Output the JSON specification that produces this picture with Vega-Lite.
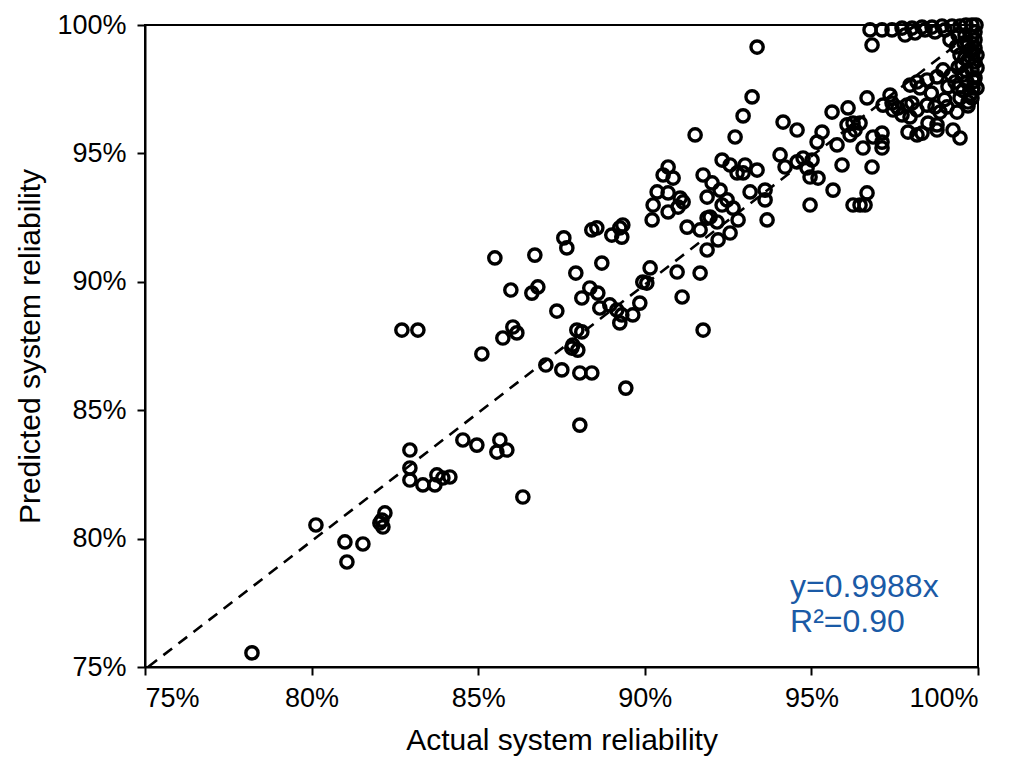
{
  "$schema": "https://vega.github.io/schema/vega-lite/v6.json",
  "autosize": {"type": "none"},
  "padding": {"left": 145, "top": 25, "right": 40, "bottom": 99},
  "width": 833,
  "height": 642,
  "background": "white",
  "config": {
    "font": "Liberation Sans",
    "view": {"stroke": "black", "strokeWidth": 2},
    "axis": {
      "domainColor": "black",
      "domainWidth": 2,
      "tickColor": "black",
      "tickWidth": 2,
      "tickSize": 8,
      "grid": false,
      "labelFont": "Liberation Sans",
      "labelFontSize": 27,
      "labelColor": "black",
      "titleFont": "Liberation Sans",
      "titleFontSize": 30,
      "titleFontWeight": "normal",
      "titleColor": "black"
    }
  },
  "datasets": {
    "reliability": [
      {"actual": 78.21, "predicted": 75.55},
      {"actual": 80.13, "predicted": 80.53},
      {"actual": 81.00, "predicted": 79.87},
      {"actual": 81.54, "predicted": 79.79},
      {"actual": 81.06, "predicted": 79.09},
      {"actual": 82.11, "predicted": 80.72},
      {"actual": 82.20, "predicted": 81.00},
      {"actual": 82.14, "predicted": 80.45},
      {"actual": 82.05, "predicted": 80.61},
      {"actual": 82.95, "predicted": 83.45},
      {"actual": 82.95, "predicted": 82.75},
      {"actual": 82.95, "predicted": 82.28},
      {"actual": 83.34, "predicted": 82.09},
      {"actual": 83.70, "predicted": 82.09},
      {"actual": 83.76, "predicted": 82.48},
      {"actual": 83.94, "predicted": 82.36},
      {"actual": 84.15, "predicted": 82.40},
      {"actual": 84.54, "predicted": 83.84},
      {"actual": 84.96, "predicted": 83.64},
      {"actual": 85.65, "predicted": 83.84},
      {"actual": 85.56, "predicted": 83.37},
      {"actual": 85.86, "predicted": 83.45},
      {"actual": 86.34, "predicted": 81.62},
      {"actual": 88.05, "predicted": 84.42},
      {"actual": 82.71, "predicted": 88.12},
      {"actual": 83.19, "predicted": 88.12},
      {"actual": 85.11, "predicted": 87.19},
      {"actual": 85.50, "predicted": 90.93},
      {"actual": 85.74, "predicted": 87.81},
      {"actual": 86.04, "predicted": 88.24},
      {"actual": 86.16, "predicted": 88.01},
      {"actual": 85.98, "predicted": 89.68},
      {"actual": 86.61, "predicted": 89.56},
      {"actual": 86.79, "predicted": 89.80},
      {"actual": 86.70, "predicted": 91.04},
      {"actual": 87.03, "predicted": 86.76},
      {"actual": 87.36, "predicted": 88.86},
      {"actual": 87.51, "predicted": 86.57},
      {"actual": 87.57, "predicted": 91.71},
      {"actual": 87.66, "predicted": 91.32},
      {"actual": 87.96, "predicted": 88.12},
      {"actual": 88.11, "predicted": 88.05},
      {"actual": 87.81, "predicted": 87.42},
      {"actual": 87.99, "predicted": 87.34},
      {"actual": 87.84, "predicted": 87.54},
      {"actual": 88.05, "predicted": 86.45},
      {"actual": 88.41, "predicted": 86.45},
      {"actual": 87.93, "predicted": 90.34},
      {"actual": 88.11, "predicted": 89.37},
      {"actual": 88.35, "predicted": 89.76},
      {"actual": 88.41, "predicted": 92.02},
      {"actual": 88.56, "predicted": 92.10},
      {"actual": 88.59, "predicted": 89.56},
      {"actual": 88.65, "predicted": 88.98},
      {"actual": 88.71, "predicted": 90.73},
      {"actual": 88.95, "predicted": 89.10},
      {"actual": 89.01, "predicted": 91.82},
      {"actual": 89.16, "predicted": 88.90},
      {"actual": 89.25, "predicted": 92.10},
      {"actual": 89.34, "predicted": 92.21},
      {"actual": 89.31, "predicted": 91.74},
      {"actual": 89.31, "predicted": 88.71},
      {"actual": 89.25, "predicted": 88.40},
      {"actual": 89.43, "predicted": 85.86},
      {"actual": 89.64, "predicted": 88.71},
      {"actual": 89.85, "predicted": 89.17},
      {"actual": 89.94, "predicted": 89.99},
      {"actual": 90.06, "predicted": 89.95},
      {"actual": 90.16, "predicted": 90.54},
      {"actual": 90.22, "predicted": 92.41},
      {"actual": 90.25, "predicted": 92.99},
      {"actual": 90.37, "predicted": 93.50},
      {"actual": 90.70, "predicted": 93.46},
      {"actual": 90.70, "predicted": 92.72},
      {"actual": 91.00, "predicted": 92.91},
      {"actual": 90.55, "predicted": 94.16},
      {"actual": 90.85, "predicted": 94.04},
      {"actual": 90.70, "predicted": 94.47},
      {"actual": 91.06, "predicted": 93.26},
      {"actual": 91.15, "predicted": 93.11},
      {"actual": 90.97, "predicted": 90.38},
      {"actual": 91.12, "predicted": 89.41},
      {"actual": 91.27, "predicted": 92.13},
      {"actual": 91.66, "predicted": 90.34},
      {"actual": 91.75, "predicted": 88.12},
      {"actual": 91.66, "predicted": 92.02},
      {"actual": 91.87, "predicted": 92.48},
      {"actual": 91.96, "predicted": 92.52},
      {"actual": 92.17, "predicted": 92.33},
      {"actual": 91.87, "predicted": 91.24},
      {"actual": 92.20, "predicted": 91.63},
      {"actual": 92.56, "predicted": 91.90},
      {"actual": 92.80, "predicted": 92.41},
      {"actual": 91.75, "predicted": 94.16},
      {"actual": 92.02, "predicted": 93.85},
      {"actual": 91.87, "predicted": 93.30},
      {"actual": 92.26, "predicted": 93.57},
      {"actual": 92.47, "predicted": 93.19},
      {"actual": 92.32, "predicted": 92.99},
      {"actual": 92.65, "predicted": 92.87},
      {"actual": 92.32, "predicted": 94.74},
      {"actual": 92.56, "predicted": 94.55},
      {"actual": 93.01, "predicted": 94.55},
      {"actual": 92.95, "predicted": 94.24},
      {"actual": 92.77, "predicted": 94.24},
      {"actual": 93.37, "predicted": 94.35},
      {"actual": 93.16, "predicted": 93.50},
      {"actual": 93.61, "predicted": 93.57},
      {"actual": 93.61, "predicted": 93.19},
      {"actual": 93.67, "predicted": 92.41},
      {"actual": 91.51, "predicted": 95.72},
      {"actual": 92.71, "predicted": 95.64},
      {"actual": 92.95, "predicted": 96.46},
      {"actual": 93.22, "predicted": 97.20},
      {"actual": 93.37, "predicted": 99.14},
      {"actual": 94.15, "predicted": 96.22},
      {"actual": 94.57, "predicted": 95.91},
      {"actual": 94.06, "predicted": 94.94},
      {"actual": 94.21, "predicted": 94.47},
      {"actual": 94.57, "predicted": 94.67},
      {"actual": 94.75, "predicted": 94.82},
      {"actual": 95.02, "predicted": 94.74},
      {"actual": 94.87, "predicted": 94.43},
      {"actual": 94.96, "predicted": 94.08},
      {"actual": 95.20, "predicted": 94.04},
      {"actual": 94.96, "predicted": 92.99},
      {"actual": 95.32, "predicted": 95.83},
      {"actual": 95.17, "predicted": 95.44},
      {"actual": 95.77, "predicted": 95.33},
      {"actual": 95.62, "predicted": 96.61},
      {"actual": 96.10, "predicted": 96.77},
      {"actual": 95.92, "predicted": 94.55},
      {"actual": 95.65, "predicted": 93.57},
      {"actual": 96.25, "predicted": 92.99},
      {"actual": 96.46, "predicted": 92.99},
      {"actual": 96.61, "predicted": 92.99},
      {"actual": 96.67, "predicted": 93.46},
      {"actual": 96.55, "predicted": 95.21},
      {"actual": 96.82, "predicted": 94.47},
      {"actual": 97.12, "predicted": 95.79},
      {"actual": 97.12, "predicted": 95.21},
      {"actual": 96.67, "predicted": 97.16},
      {"actual": 97.36, "predicted": 97.27},
      {"actual": 97.45, "predicted": 96.69},
      {"actual": 96.25, "predicted": 96.18},
      {"actual": 96.46, "predicted": 96.18},
      {"actual": 96.31, "predicted": 95.91},
      {"actual": 96.16, "predicted": 95.72},
      {"actual": 96.76, "predicted": 99.81},
      {"actual": 96.82, "predicted": 99.22},
      {"actual": 97.12, "predicted": 99.81},
      {"actual": 97.42, "predicted": 99.81},
      {"actual": 97.72, "predicted": 99.88},
      {"actual": 98.02, "predicted": 99.88},
      {"actual": 98.32, "predicted": 99.92},
      {"actual": 98.62, "predicted": 99.92},
      {"actual": 98.92, "predicted": 99.96},
      {"actual": 99.22, "predicted": 99.96},
      {"actual": 99.46, "predicted": 99.96},
      {"actual": 99.64, "predicted": 100.0},
      {"actual": 99.82, "predicted": 100.0},
      {"actual": 99.94, "predicted": 100.0},
      {"actual": 99.91, "predicted": 99.73},
      {"actual": 99.91, "predicted": 99.42},
      {"actual": 99.91, "predicted": 99.10},
      {"actual": 99.97, "predicted": 98.83},
      {"actual": 99.91, "predicted": 98.56},
      {"actual": 99.82, "predicted": 98.25},
      {"actual": 99.91, "predicted": 97.94},
      {"actual": 99.85, "predicted": 97.55},
      {"actual": 99.76, "predicted": 97.27},
      {"actual": 99.61, "predicted": 99.61},
      {"actual": 99.70, "predicted": 99.22},
      {"actual": 99.46, "predicted": 98.83},
      {"actual": 99.52, "predicted": 98.44},
      {"actual": 99.70, "predicted": 97.00},
      {"actual": 99.46, "predicted": 97.16},
      {"actual": 99.31, "predicted": 97.78},
      {"actual": 99.40, "predicted": 97.55},
      {"actual": 99.67, "predicted": 97.78},
      {"actual": 98.95, "predicted": 98.25},
      {"actual": 98.77, "predicted": 97.98},
      {"actual": 98.47, "predicted": 97.86},
      {"actual": 98.17, "predicted": 97.78},
      {"actual": 97.96, "predicted": 97.66},
      {"actual": 98.26, "predicted": 97.55},
      {"actual": 97.15, "predicted": 96.88},
      {"actual": 97.42, "predicted": 96.96},
      {"actual": 97.60, "predicted": 96.77},
      {"actual": 97.87, "predicted": 96.88},
      {"actual": 98.02, "predicted": 96.96},
      {"actual": 97.72, "predicted": 96.50},
      {"actual": 97.96, "predicted": 96.42},
      {"actual": 98.17, "predicted": 96.69},
      {"actual": 98.47, "predicted": 96.88},
      {"actual": 98.71, "predicted": 96.81},
      {"actual": 98.86, "predicted": 96.61},
      {"actual": 99.07, "predicted": 96.81},
      {"actual": 99.37, "predicted": 96.61},
      {"actual": 97.90, "predicted": 95.83},
      {"actual": 98.17, "predicted": 95.72},
      {"actual": 98.32, "predicted": 95.79},
      {"actual": 98.50, "predicted": 96.18},
      {"actual": 98.77, "predicted": 96.11},
      {"actual": 98.77, "predicted": 95.91},
      {"actual": 99.25, "predicted": 95.91},
      {"actual": 99.46, "predicted": 95.60},
      {"actual": 97.12, "predicted": 95.44},
      {"actual": 96.85, "predicted": 95.64},
      {"actual": 96.07, "predicted": 96.11},
      {"actual": 99.40, "predicted": 99.61},
      {"actual": 99.16, "predicted": 99.42},
      {"actual": 99.01, "predicted": 99.81},
      {"actual": 98.71, "predicted": 99.73},
      {"actual": 98.41, "predicted": 99.81},
      {"actual": 98.11, "predicted": 99.69},
      {"actual": 97.81, "predicted": 99.61},
      {"actual": 99.76, "predicted": 99.03},
      {"actual": 99.70, "predicted": 98.64},
      {"actual": 99.97, "predicted": 98.33},
      {"actual": 99.97, "predicted": 97.55},
      {"actual": 99.82, "predicted": 97.16},
      {"actual": 99.55, "predicted": 98.05},
      {"actual": 99.58, "predicted": 99.30},
      {"actual": 99.35, "predicted": 99.15},
      {"actual": 99.80, "predicted": 99.55},
      {"actual": 99.60, "predicted": 98.70},
      {"actual": 99.85, "predicted": 98.90},
      {"actual": 99.40, "predicted": 98.35},
      {"actual": 99.65, "predicted": 98.20},
      {"actual": 99.88, "predicted": 97.80},
      {"actual": 99.55, "predicted": 97.45},
      {"actual": 99.20, "predicted": 98.05},
      {"actual": 99.10, "predicted": 97.60},
      {"actual": 99.70, "predicted": 96.85},
      {"actual": 98.60, "predicted": 97.35},
      {"actual": 99.00, "predicted": 97.10}
    ],
    "fit": [
      {"actual": 75.1, "predicted": 75.01},
      {"actual": 100.0, "predicted": 99.88}
    ]
  },
  "layer": [
    {
      "data": {"name": "fit"},
      "mark": {"type": "line", "color": "black", "strokeWidth": 2.6, "strokeDash": [11, 8], "clip": true},
      "encoding": {
        "x": {"field": "actual", "type": "quantitative"},
        "y": {"field": "predicted", "type": "quantitative"}
      }
    },
    {
      "data": {"name": "reliability"},
      "mark": {"type": "point", "shape": "circle", "filled": false, "color": "black", "size": 150, "strokeWidth": 3.4, "opacity": 1},
      "encoding": {
        "x": {
          "field": "actual",
          "type": "quantitative",
          "scale": {"domain": [75, 100], "nice": false, "zero": false},
          "axis": {
            "title": "Actual system reliability",
            "values": [75, 80, 85, 90, 95, 100],
            "labelExpr": "datum.value + '%'",
            "labelPadding": 10,
            "titlePadding": 14
          }
        },
        "y": {
          "field": "predicted",
          "type": "quantitative",
          "scale": {"domain": [75, 100], "nice": false, "zero": false},
          "axis": {
            "title": "Predicted system reliability",
            "values": [75, 80, 85, 90, 95, 100],
            "labelExpr": "datum.value + '%'",
            "labelPadding": 11,
            "titlePadding": 11
          }
        }
      }
    },
    {
      "data": {"values": [{"line": "y=0.9988x"}]},
      "mark": {"type": "text", "align": "left", "baseline": "middle", "fontSize": 32, "color": "#1a5aa6", "font": "Liberation Sans"},
      "encoding": {
        "x": {"datum": 94.36},
        "y": {"datum": 78.12},
        "text": {"field": "line"}
      }
    },
    {
      "data": {"values": [{"line": "R²=0.90"}]},
      "mark": {"type": "text", "align": "left", "baseline": "middle", "fontSize": 32, "color": "#1a5aa6", "font": "Liberation Sans"},
      "encoding": {
        "x": {"datum": 94.36},
        "y": {"datum": 76.75},
        "text": {"field": "line"}
      }
    }
  ]
}
